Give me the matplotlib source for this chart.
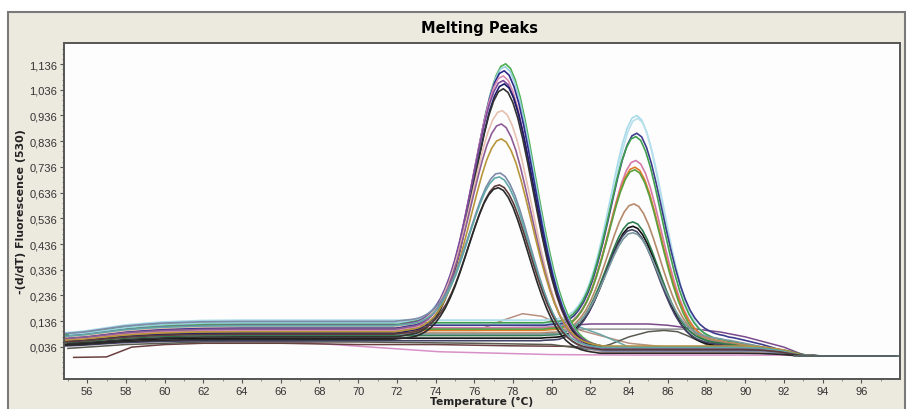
import numpy as np
import matplotlib.pyplot as plt
from matplotlib.patches import Rectangle
from matplotlib.ticker import FixedLocator, FuncFormatter

# temperature grid (deg C) the curves are read on: coarse below 73, 0.25 steps 73-90
T = np.concatenate([[55, 56, 57, 58, 59, 60, 62, 64, 66, 68, 70, 72],
                    np.arange(73, 90.01, 0.25),
                    [91, 92, 93, 94, 96, 98]])

# normalised peak shapes (peak 1 ~77.5, peak 2 ~84.5)
PEAK1 = [0]*12 + [0.015, 0.023, 0.036, 0.054, 0.078, 0.111, 0.154, 0.207, 0.272, 0.349,
                  0.435, 0.529, 0.626, 0.722, 0.812, 0.890, 0.949, 0.987, 1.0,
                  0.987, 0.949, 0.890, 0.812, 0.722, 0.626, 0.529, 0.435, 0.349,
                  0.272, 0.207, 0.154, 0.111, 0.078, 0.054, 0.036, 0.023, 0.015,
                  0.009, 0.005] + [0]*36
PEAK2 = [0]*40 + [0.004, 0.007, 0.012, 0.021, 0.035, 0.055, 0.085, 0.126, 0.180, 0.249,
                  0.334, 0.432, 0.539, 0.651, 0.760, 0.857, 0.934, 0.983, 1.0,
                  0.983, 0.934, 0.857, 0.760, 0.651, 0.539, 0.432, 0.334, 0.249,
                  0.180, 0.126, 0.085, 0.055, 0.035, 0.021, 0.012, 0.007, 0.004] + [0]*10

# background: share of the low-temperature level kept, and the tail after the peak
LOW = [0.65, 0.70, 0.78, 0.86, 0.91, 0.95, 0.99, 1, 1, 1, 1, 1]
FADE1 = LOW + [0.99, 0.98, 0.97, 0.955, 0.94, 0.92, 0.90, 0.865, 0.83, 0.78, 0.73, 0.675,
               0.62, 0.56, 0.50, 0.44, 0.38, 0.33, 0.28, 0.235, 0.19, 0.155, 0.12, 0.095,
               0.07, 0.055, 0.04, 0.03, 0.02, 0.015, 0.01, 0.005] + [0]*43
TAIL1 = [0]*22 + [0.003, 0.0045, 0.006, 0.008, 0.010, 0.012, 0.014, 0.016, 0.018, 0.0195,
                  0.021, 0.0225, 0.024, 0.025, 0.026, 0.0265, 0.027, 0.0275] \
        + [0.028]*41 + [0.026, 0.018, 0.004, 0, 0, 0]
FADE2 = LOW + [1]*29 + [0.99, 0.97, 0.94, 0.90, 0.85, 0.80, 0.74, 0.68, 0.615, 0.55, 0.485,
                        0.42, 0.36, 0.30, 0.25, 0.20, 0.16, 0.12, 0.09, 0.06, 0.04, 0.02,
                        0.01] + [0]*23
TAIL2 = [0]*44 + [0.005, 0.008, 0.012, 0.016, 0.020, 0.024, 0.028, 0.031, 0.034, 0.036,
                  0.039, 0.041, 0.043, 0.045, 0.046, 0.048, 0.049, 0.050, 0.051, 0.052,
                  0.053, 0.054, 0.055, 0.056, 0.057, 0.057, 0.058, 0.058, 0.058, 0.058,
                  0.057, 0.056, 0.055, 0.053, 0.051, 0.048, 0.045] \
        + [0.032, 0.016, 0.004, 0, 0, 0]

# samples with the low-temperature peak
P1_PEAK = [1.137, 1.126, 1.110, 1.090, 1.072, 1.059, 1.040, 0.955, 0.903, 0.845, 0.712, 0.697, 0.666, 0.655]
P1_SHIFT = [0.12, 0.10, 0.05, 0.0, 0.0, 0.05, 0.0, -0.05, -0.10, -0.10, -0.15, -0.20, -0.20, -0.25]
P1_BASE = [0.125, 0.13, 0.11, 0.10, 0.12, 0.09, 0.075, 0.115, 0.105, 0.095, 0.135, 0.118, 0.085, 0.065]
P1_TAILK = [1.2, 0.9, 1.0, 0.6, 1.3, 0.8, 1.1, 0.5, 1.0, 1.4, 0.7, 1.2, 0.9, 0.4]
P1_COLOR = ['#4caf50', '#9ad0e0', '#2b2b8c', '#d98cb3', '#7b4a9b', '#1c1c6b', '#333333',
            '#e8c0b0', '#8e5c96', '#b8963c', '#7d8aa8', '#62a8a8', '#5c3c3c', '#2a2a2a']

# samples with the high-temperature peak
P2_PEAK = [0.936, 0.925, 0.867, 0.854, 0.761, 0.735, 0.725, 0.592, 0.522, 0.505, 0.492, 0.480]
P2_SHIFT = [-0.10, -0.05, -0.10, -0.15, -0.15, -0.20, -0.20, -0.25, -0.30, -0.30, -0.35, -0.30]
P2_BASE = [0.14, 0.125, 0.12, 0.13, 0.11, 0.10, 0.105, 0.09, 0.08, 0.07, 0.06, 0.085]
P2_TAILK = [1.0, 0.9, 1.4, 1.1, 0.9, 1.0, 0.8, 1.0, 0.9, 0.7, 0.8, 1.2]
P2_COLOR = ['#a8dcea', '#b8e0ec', '#3c3c8c', '#3f9f4f', '#d47aa8', '#e07b28', '#5aa040',
            '#b58a6a', '#2e7d4f', '#111111', '#444466', '#7a9aa0']

# odd curves (no clear peak)
PINK_T = [55, 58, 62, 66.8, 74.2, 80, 84, 92, 93, 98]
PINK_Y = [0.045, 0.055, 0.06, 0.055, 0.017, 0.006, 0.004, 0.004, 0.0, 0.0]
MAROON_T = [55.3, 57, 58.3, 60, 62, 66, 70, 74, 78, 81, 84, 87, 92, 93]
MAROON_Y = [-0.005, -0.003, 0.035, 0.045, 0.05, 0.05, 0.045, 0.045, 0.04, 0.038, 0.02, 0.02, 0.015, 0.0]
BUMP_T = [55, 58, 62, 70, 74, 76.5, 77.5, 78.5, 79.5, 80.5, 81.5, 82, 84, 86, 90, 93]
BUMP_Y = [0.07, 0.085, 0.1, 0.105, 0.1, 0.11, 0.14, 0.165, 0.155, 0.12, 0.1, 0.09, 0.05, 0.035, 0.03, 0.0]
FLATP_T = [55, 58, 62, 70, 76, 80, 81, 82, 85, 86, 87, 88, 88.7, 90, 91, 92, 93]
FLATP_Y = [0.075, 0.09, 0.105, 0.11, 0.11, 0.112, 0.12, 0.125, 0.125, 0.12, 0.11, 0.10, 0.094, 0.075,
           0.055, 0.035, 0.005]
FLATG_T = [55, 58, 62, 70, 76, 81, 87, 88, 90, 92, 93]
FLATG_Y = [0.06, 0.08, 0.095, 0.1, 0.1, 0.105, 0.105, 0.06, 0.04, 0.02, 0.0]
DARK_T = [55, 58, 62, 70, 76, 80, 82, 83, 84, 85, 85.8, 86.5, 87, 88, 89, 92, 93]
DARK_Y = [0.03, 0.045, 0.055, 0.055, 0.05, 0.045, 0.025, 0.045, 0.075, 0.095, 0.1, 0.095, 0.08, 0.045, 0.03, 0.015, 0.0]
TEAL_T = [55, 58, 62, 70, 76, 80, 81, 82.5, 84, 85, 92, 93]
TEAL_Y = [0.08, 0.1, 0.115, 0.12, 0.12, 0.122, 0.125, 0.085, 0.035, 0.03, 0.02, 0.0]
ODD = [(PINK_T, PINK_Y, '#d890c8'), (MAROON_T, MAROON_Y, '#6b4040'), (BUMP_T, BUMP_Y, '#b89080'),
       (FLATP_T, FLATP_Y, '#7a4a8a'), (FLATG_T, FLATG_Y, '#909090'), (DARK_T, DARK_Y, '#5a5a50'),
       (TEAL_T, TEAL_Y, '#6aa8a8')]

BEIGE = '#ece9df'

fig = plt.figure(figsize=(9.08, 4.10), dpi=100, facecolor='white')
frame = Rectangle((8/908, -0.02), 897/908, 397/410 + 0.02, transform=fig.transFigure,
                  facecolor=BEIGE, edgecolor='#7a7a7a', lw=1.5, zorder=-5)
fig.patches.append(frame)
ax = fig.add_axes([64/908, 30/410, 836/908, 336/410], zorder=2)
ax.set_facecolor('#fdfdfd')

def draw_group(peaks, shifts, bases, tailk, colors, peak, fade, tail, ic):
    peak = np.array(peak); fade = np.array(fade); tail = np.array(tail)
    for p, s, b, k, c in zip(peaks, shifts, bases, tailk, colors):
        bg = b*fade + k*tail
        y = bg + (p - bg[ic])*peak
        ax.plot(T + s, y, color=c, lw=1.2)

for t, y, c in ODD:
    ax.plot(t, y, color=c, lw=1.1)
draw_group(P2_PEAK, P2_SHIFT, P2_BASE, P2_TAILK, P2_COLOR, PEAK2, FADE2, TAIL2, 58)
draw_group(P1_PEAK, P1_SHIFT, P1_BASE, P1_TAILK, P1_COLOR, PEAK1, FADE1, TAIL1, 30)
# flat final baseline
ax.plot([92.5, 98], [0.0, 0.0], color='#607070', lw=1.2)

ax.set_xlim(54.8, 98)
ax.set_ylim(-0.089, 1.218)
ax.xaxis.set_major_locator(FixedLocator(np.arange(56, 97, 2)))
ax.xaxis.set_minor_locator(FixedLocator(np.arange(55, 98, 2)))
ax.yaxis.set_major_locator(FixedLocator(np.arange(0.036, 1.14, 0.1)))
ax.yaxis.set_minor_locator(FixedLocator(np.arange(-0.064, 1.2, 0.02)))
ax.yaxis.set_major_formatter(FuncFormatter(lambda v, pos: f'{v:.3f}'.replace('.', ',')))
ax.tick_params(which='major', direction='out', length=3, width=0.8, colors='#555555',
               labelcolor='#333333', labelsize=8, pad=2)
ax.tick_params(which='minor', direction='out', length=1.5, width=0.6, colors='#777777')
for sp in ax.spines.values():
    sp.set_color('#555555')
    sp.set_linewidth(1.4)

fig.text(479/908, 382/410, 'Melting Peaks', ha='center', va='center', fontsize=10.5,
         fontweight='bold', family='DejaVu Sans')
fig.text(482/908, 8/410, 'Temperature (°C)', ha='center', va='center', fontsize=7.7,
         fontweight='bold', family='DejaVu Sans', color='#222222')
fig.text(21/908, 0.483, '-(d/dT) Fluorescence (530)', ha='center', va='center', rotation=90,
         fontsize=7.9, fontweight='bold', family='DejaVu Sans', color='#222222')
for lab in ax.get_xticklabels() + ax.get_yticklabels():
    lab.set_family('Liberation Sans')

fig.savefig('out.png', dpi=100, facecolor='white')
